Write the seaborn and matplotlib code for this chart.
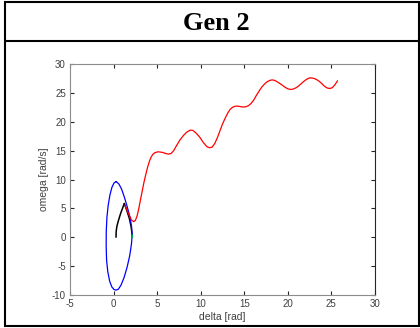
import matplotlib
matplotlib.use("Agg")
import matplotlib.pyplot as plt
import seaborn as sns
from matplotlib.lines import Line2D
from matplotlib.patches import Rectangle

# ---- data ----
title_text = "Gen 2"
x_label = "delta [rad]"
y_label = "omega [rad/s]"
x_ticks = [-5, 0, 5, 10, 15, 20, 25, 30]
y_ticks = [-10, -5, 0, 5, 10, 15, 20, 25, 30]

blue_delta = [0.30, 0.05, -0.20, -0.42, -0.62, -0.76, -0.84, -0.85, -0.80, -0.66,
              -0.45, -0.20, 0.05, 0.28, 0.55, 0.85, 1.20, 1.55, 1.85, 2.05,
              2.13, 2.07, 1.88, 1.58, 1.25, 0.93, 0.62, 0.30]
blue_omega = [9.65, 9.40, 8.60, 7.30, 5.50, 3.50, 1.00, -1.50, -4.00, -6.00,
              -7.60, -8.60, -9.05, -9.15, -9.00, -8.30, -7.00, -5.20, -3.20, -1.20,
              0.30, 1.80, 3.50, 5.20, 6.90, 8.30, 9.20, 9.65]

black_up_delta = [0.28, 0.30, 0.38, 0.54, 0.70, 0.85, 1.05, 1.23]
black_up_omega = [0.00, 1.00, 1.90, 2.80, 3.60, 4.30, 5.10, 5.85]

black_down_delta = [1.23, 1.50, 1.80, 2.00, 2.12, 2.16]
black_down_omega = [5.85, 4.70, 3.30, 1.90, 0.60, 0.00]

green_delta = [2.15, 2.17]
green_omega = [0.40, -0.10]

red_delta = [1.23, 1.50, 1.80, 2.05, 2.30, 2.50, 2.70, 2.90, 3.10, 3.30, 3.50, 3.70,
             3.90, 4.10, 4.30, 4.50, 4.75, 5.10, 5.60, 6.00, 6.30, 6.60, 6.90, 7.20,
             7.60, 8.00, 8.40, 8.80, 9.10, 9.50, 9.90, 10.30, 10.70, 11.00, 11.30,
             11.60, 11.90, 12.20, 12.50, 12.80, 13.10, 13.40, 13.70, 14.00, 14.30,
             14.60, 14.90, 15.20, 15.50, 15.80, 16.10, 16.40, 16.70, 17.00, 17.30,
             17.60, 17.90, 18.20, 18.50, 18.80, 19.10, 19.40, 19.70, 20.00, 20.30,
             20.60, 20.90, 21.20, 21.50, 21.80, 22.10, 22.40, 22.70, 23.00, 23.30,
             23.60, 23.90, 24.20, 24.50, 24.80, 25.10, 25.40, 25.70]
red_omega = [5.85, 4.80, 3.80, 3.00, 2.70, 2.90, 3.70, 5.00, 6.60, 8.10, 9.60, 10.90,
             12.10, 13.10, 13.85, 14.35, 14.65, 14.80, 14.70, 14.50, 14.40, 14.50, 15.00, 15.80,
             16.80, 17.60, 18.20, 18.55, 18.50, 18.00, 17.30, 16.40, 15.70, 15.50, 15.60,
             16.20, 17.20, 18.40, 19.60, 20.60, 21.50, 22.20, 22.55, 22.70, 22.70,
             22.60, 22.55, 22.60, 22.80, 23.20, 23.80, 24.60, 25.30, 26.00, 26.50,
             26.90, 27.15, 27.25, 27.15, 26.90, 26.60, 26.30, 25.95, 25.70, 25.60,
             25.65, 25.85, 26.15, 26.55, 26.95, 27.30, 27.55, 27.60, 27.50, 27.30,
             27.00, 26.60, 26.15, 25.85, 25.75, 25.90, 26.40, 27.10]

# ---- figure ----
sns.set_theme(style="white")
plt.rcParams['font.family'] = ['Liberation Sans', 'DejaVu Sans']

W, H = 420, 328
fig = plt.figure(figsize=(W / 100, H / 100), dpi=100)
fig.patch.set_facecolor("white")

ax = fig.add_axes([70 / W, 1 - 295 / H, 305 / W, 231 / H])

lw = 0.9
sns.lineplot(x=black_down_delta, y=black_down_omega, sort=False, estimator=None,
             color="#000000", linewidth=1.05, ax=ax)
sns.lineplot(x=blue_delta, y=blue_omega, sort=False, estimator=None, color="#0000ff", linewidth=lw, ax=ax)
sns.lineplot(x=red_delta, y=red_omega, sort=False, estimator=None, color="#ff0000", linewidth=lw, ax=ax)
sns.lineplot(x=black_up_delta, y=black_up_omega, sort=False, estimator=None, color="#000000", linewidth=1.1, ax=ax)
sns.lineplot(x=green_delta, y=green_omega, sort=False, estimator=None, color="#00b050", linewidth=lw, ax=ax)

ax.set_xlim(-5, 30)
ax.set_ylim(-10, 30)
ax.set_xticks(x_ticks)
ax.set_yticks(y_ticks)
ax.set_xticklabels([str(t) for t in x_ticks])
ax.set_yticklabels([str(t) for t in y_ticks])
ax.tick_params(direction="in", length=3, width=0.8, color="#262626",
               labelsize=7, labelcolor="#404040", top=True, right=True,
               bottom=True, left=True, pad=3)
ax.set_xlabel(x_label, fontsize=7.5, color="#404040", labelpad=2)
ax.set_ylabel(y_label, fontsize=7.5, color="#404040", labelpad=2)
for side in ["left", "bottom", "top"]:
    ax.spines[side].set_color("#8c8c8c")
    ax.spines[side].set_linewidth(0.8)
ax.spines["right"].set_color("#262626")
ax.spines["right"].set_linewidth(0.8)
ax.grid(False)

# ---- table-like frame and title ----
fig.add_artist(Rectangle((4.5 / W, 2 / H), 414 / W, 324 / H, transform=fig.transFigure,
                         fill=False, edgecolor="black", linewidth=1.5))
fig.add_artist(Line2D([4.5 / W, 418.5 / W], [1 - 41 / H, 1 - 41 / H], transform=fig.transFigure,
                      color="black", linewidth=1.5))
fig.text(216 / W, 1 - 23 / H, title_text, ha="center", va="center", fontsize=19,
         fontweight="bold", family=["Liberation Serif", "DejaVu Serif"], color="black")

fig.savefig("out.png", dpi=100)
